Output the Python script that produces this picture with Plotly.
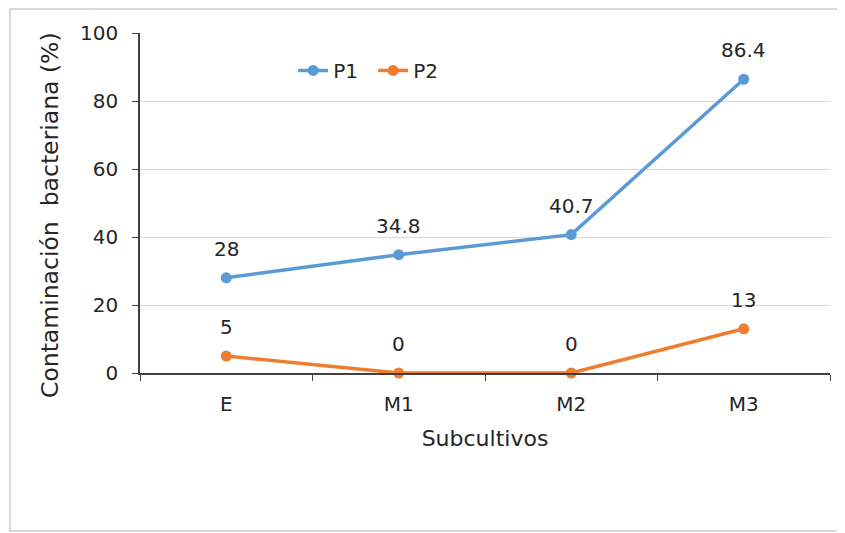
import plotly.graph_objects as go

categories = ["E", "M1", "M2", "M3"]
p1 = [28, 34.8, 40.7, 86.4]
p2 = [5, 0, 0, 13]
y_ticks = [0, 20, 40, 60, 80, 100]

font_family = "DejaVu Sans, Verdana, sans-serif"
text_color = "#262626"
fs = 20
colors = {"P1": "#5B9BD5", "P2": "#ED7D31"}
series = {"P1": p1, "P2": p2}

fig = go.Figure()
annotations = []
for name, vals in series.items():
    fig.add_trace(go.Scatter(
        x=categories, y=vals, name=name, mode="lines+markers",
        line=dict(color=colors[name], width=3.5), marker=dict(size=11, color=colors[name]),
        cliponaxis=False,
    ))
    for c, v in zip(categories, vals):
        annotations.append(dict(x=c, y=v, xref="x", yref="y", text=str(v), showarrow=False,
                                yanchor="bottom", yshift=15,
                                font=dict(size=fs, color=text_color, family=font_family)))

annotations.append(dict(x=-0.1304, y=0.4647, xref="paper", yref="paper",
                        text="Contaminación  bacteriana (%)", textangle=-90, showarrow=False,
                        xanchor="center", yanchor="middle",
                        font=dict(size=23.5, color=text_color, family=font_family)))

fig.update_layout(
    width=845, height=533,
    margin=dict(l=132, r=23, t=25, b=168),
    paper_bgcolor="white", plot_bgcolor="white",
    font=dict(family=font_family, size=fs, color=text_color),
    showlegend=True,
    legend=dict(orientation="h", x=0.222, y=0.89, xanchor="left", yanchor="middle",
                font=dict(size=fs, color=text_color), bgcolor="rgba(0,0,0,0)",
                entrywidth=35, entrywidthmode="pixels"),
    xaxis=dict(
        type="category", range=[-0.5, 3.5], tickson="boundaries",
        ticks="outside", ticklen=6, tickcolor="#404040",
        showline=True, linecolor="#404040", linewidth=1.5,
        showgrid=False, zeroline=False, ticklabelstandoff=12,
        title=dict(text="Subcultivos", font=dict(size=22), standoff=16),
        tickfont=dict(size=fs),
    ),
    yaxis=dict(
        range=[0, 100], tickvals=y_ticks, ticks="outside", ticklen=6,
        tickcolor="#404040", showline=True, linecolor="#404040", linewidth=1.5,
        showgrid=True, gridcolor="#d9d9d9", gridwidth=1, zeroline=False,
        ticklabelstandoff=10,
        tickfont=dict(size=fs),
    ),
    annotations=annotations,
    shapes=[dict(type="rect", xref="paper", yref="paper",
                 x0=-0.1884, x1=1.0145, y0=-0.4647, y1=1.0706,
                 line=dict(color="#d9d9d9", width=2), fillcolor="rgba(0,0,0,0)", layer="below")],
)

fig.write_html("out.html")
